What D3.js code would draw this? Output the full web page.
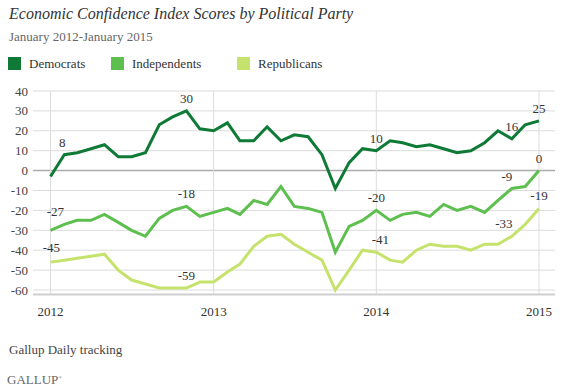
<!DOCTYPE html>
<html>
<head>
<meta charset="utf-8">
<script src="https://cdn.jsdelivr.net/npm/d3@7"></script>
<style>
  body { margin: 0; background: #fff; }
  text { font-family: "Liberation Serif", "DejaVu Serif", serif; }
</style>
</head>
<body>
<svg id="chart" width="563" height="389"></svg>
<script>
// monthly scores, Jan 2012 .. Jan 2015
var months = d3.range(37).map(function(i){ return new Date(2012, i, 1); });

var democrats = [-3, 8, 9, 11, 13, 7, 7, 9, 23, 27, 30, 21,
                 20, 24, 15, 15, 22, 15, 18, 17, 8, -9, 4, 11,
                 10, 15, 14, 12, 13, 11, 9, 10, 14, 20, 16, 23,
                 25];
var independents = [-30, -27, -25, -25, -22, -26, -30, -33, -24, -20, -18, -23,
                     -21, -19, -22, -15, -17, -8, -18, -19, -21, -41, -28, -25,
                     -20, -25, -22, -21, -23, -17, -20, -18, -21, -15, -9, -8,
                     0];
var republicans = [-46, -45, -44, -43, -42, -50, -55, -57, -59, -59, -59, -56,
                   -56, -51, -47, -38, -33, -32, -37, -41, -45, -60, -50, -40,
                   -41, -45, -46, -40, -37, -38, -38, -40, -37, -37, -33, -27,
                   -19];

var seriesNames = ["Democrats", "Independents", "Republicans"];
var seriesColors = ["#0f7a36", "#5dbf4d", "#c5e36c"];
// which months carry a value label
var labelIndex = [1, 10, 24, 34, 36];
var yTicks = [40, 30, 20, 10, 0, -10, -20, -30, -40, -50, -60];
var yearTicks = [2012, 2013, 2014, 2015];

var series = [democrats, independents, republicans].map(function(vals, k){
    return { name: seriesNames[k], color: seriesColors[k],
             values: vals.map(function(v, i){ return { date: months[i], v: v, i: i }; }) };
});

var svg = d3.select("#chart");

var x = d3.scaleTime()
    .domain([new Date(2012, 0, 1), new Date(2015, 0, 1)])
    .range([50.5, 539]);
var y = d3.scaleLinear()
    .domain([-60, 40])
    .range([290, 91]);

var gridLeft = 33, gridRight = 555;

// title block
svg.append("text")
    .attr("x", 9).attr("y", 19)
    .style("font-style", "italic")
    .style("font-size", "16px")
    .attr("fill", "#333")
    .text("Economic Confidence Index Scores by Political Party");

svg.append("text")
    .attr("x", 9).attr("y", 41)
    .style("font-size", "13px")
    .attr("fill", "#666")
    .text("January 2012-January 2015");

// legend
var legendX = [8, 111, 237];
var legend = svg.selectAll(".legend")
    .data(series)
    .enter().append("g")
    .attr("class", "legend")
    .attr("transform", function(d, k){ return "translate(" + legendX[k] + ",57)"; });
legend.append("rect")
    .attr("width", 13).attr("height", 13)
    .attr("fill", function(d){ return d.color; });
legend.append("text")
    .attr("x", 21).attr("y", 11)
    .style("font-size", "13px")
    .attr("fill", "#333")
    .text(function(d){ return d.name; });

// gridlines
svg.append("g").selectAll("line")
    .data(yTicks)
    .enter().append("line")
    .attr("x1", gridLeft).attr("x2", gridRight)
    .attr("y1", function(d){ return y(d); })
    .attr("y2", function(d){ return y(d); })
    .attr("stroke", function(d){ return d === 0 ? "#aaa" : "#dcdcdc"; })
    .attr("stroke-width", function(d){ return d === 0 ? 1.5 : 1; });

svg.append("g").selectAll("line")
    .data(yearTicks)
    .enter().append("line")
    .attr("x1", function(d){ return x(new Date(d, 0, 1)); })
    .attr("x2", function(d){ return x(new Date(d, 0, 1)); })
    .attr("y1", y(40)).attr("y2", 294)
    .attr("stroke", "#dcdcdc");

svg.append("line")
    .attr("x1", gridLeft).attr("x2", gridRight)
    .attr("y1", 294.5).attr("y2", 294.5)
    .attr("stroke", "#cfcfcf")
    .attr("stroke-width", 2);

// y tick labels
svg.append("g").selectAll("text")
    .data(yTicks)
    .enter().append("text")
    .attr("x", 28)
    .attr("y", function(d){ return y(d) + 4.5; })
    .attr("text-anchor", "end")
    .style("font-size", "13px")
    .attr("fill", "#444")
    .text(function(d){ return d; });

// x tick labels
svg.append("g").selectAll("text")
    .data(yearTicks)
    .enter().append("text")
    .attr("x", function(d){ return x(new Date(d, 0, 1)); })
    .attr("y", 316)
    .attr("text-anchor", "middle")
    .style("font-size", "13px")
    .attr("fill", "#333")
    .text(function(d){ return d; });

// lines
var line = d3.line()
    .x(function(d){ return x(d.date); })
    .y(function(d){ return y(d.v); });

svg.append("g").selectAll("path")
    .data(series.slice().reverse())
    .enter().append("path")
    .attr("d", function(d){ return line(d.values); })
    .attr("fill", "none")
    .attr("stroke", function(d){ return d.color; })
    .attr("stroke-width", 3)
    .attr("stroke-linejoin", "miter");

// value labels
var nudge = { "Independents-1": -9, "Republicans-1": -13, "Democrats-1": -2,
              "Independents-34": -5, "Republicans-34": -8, "Republicans-24": 4 };
series.forEach(function(s){
    svg.append("g").selectAll("text")
        .data(s.values.filter(function(d){ return labelIndex.indexOf(d.i) >= 0; }))
        .enter().append("text")
        .attr("x", function(d){ return x(d.date) + (nudge[s.name + "-" + d.i] || 0); })
        .attr("y", function(d){ return y(d.v) - 8; })
        .attr("text-anchor", "middle")
        .style("font-size", "13px")
        .attr("fill", "#333")
        .text(function(d){ return d.v; });
});

// footer
svg.append("text")
    .attr("x", 9).attr("y", 354)
    .style("font-size", "13px")
    .attr("fill", "#444")
    .text("Gallup Daily tracking");

var logo = svg.append("text")
    .attr("x", 7).attr("y", 384)
    .style("font-size", "13px")
    .attr("fill", "#666")
    .text("GALLUP");
logo.append("tspan")
    .attr("dy", -5)
    .style("font-size", "5px")
    .text("®");
</script>
</body>
</html>
